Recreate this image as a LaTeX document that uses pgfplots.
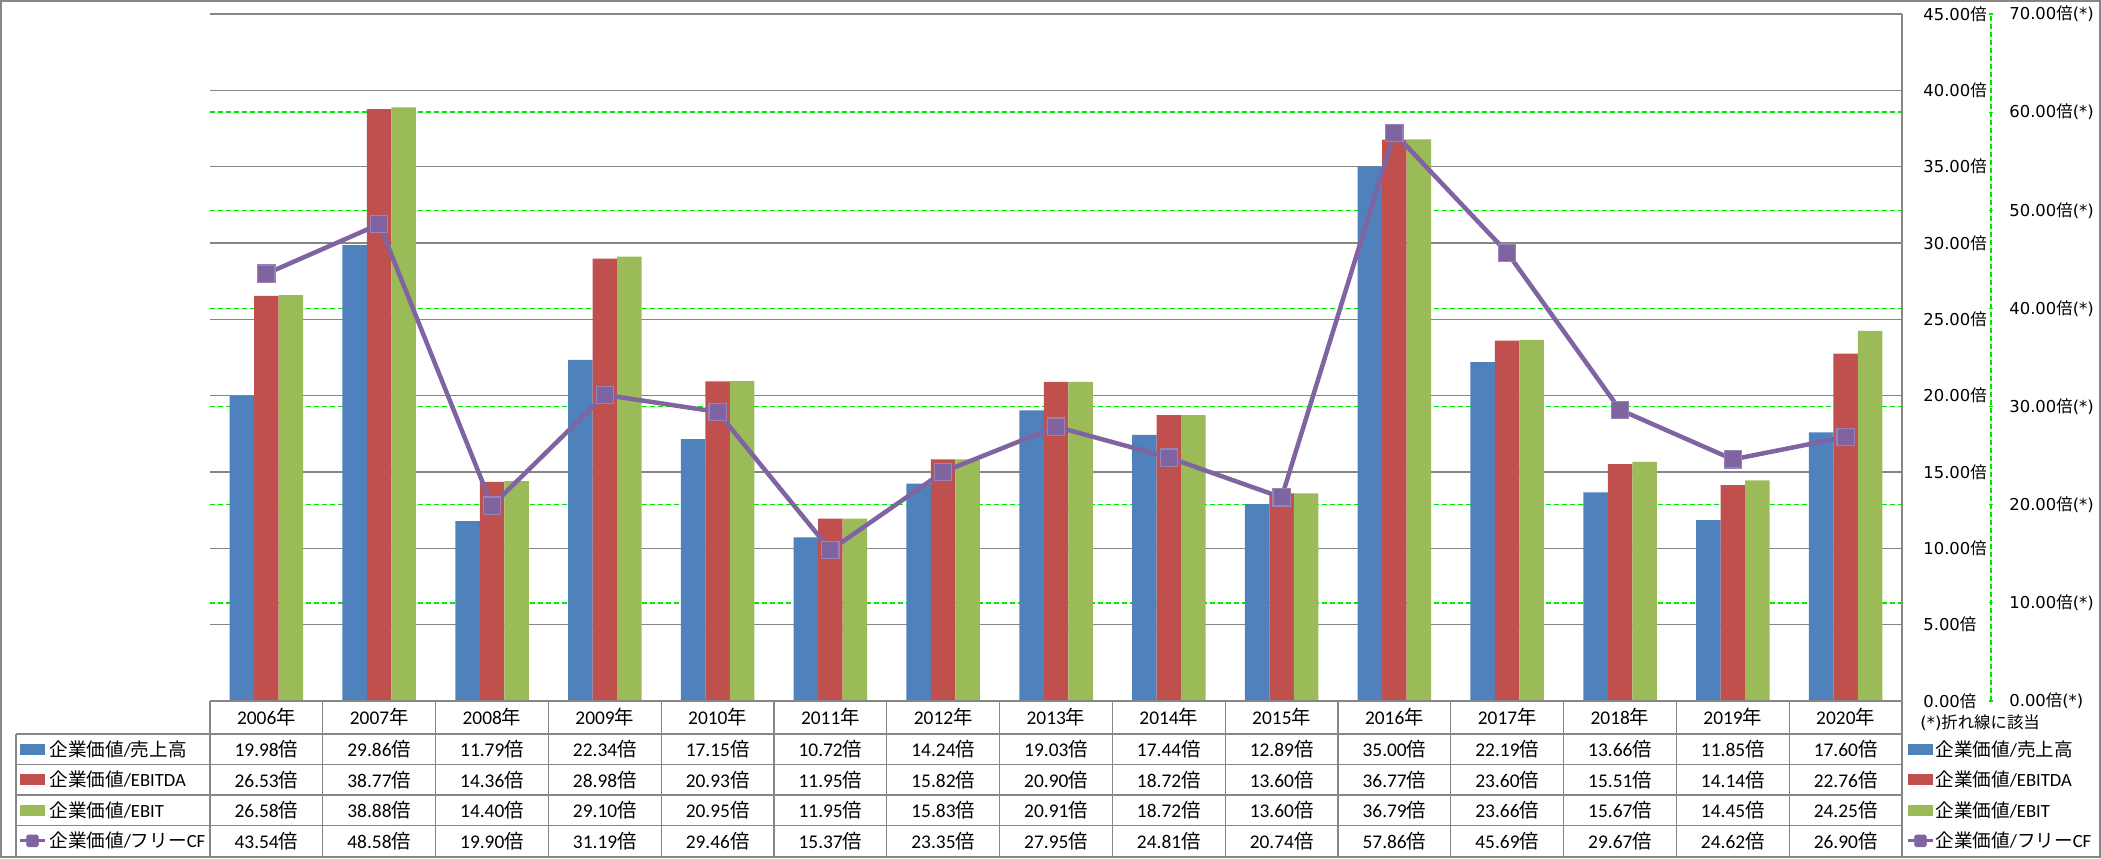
\documentclass[border=0pt]{standalone}
\usepackage{fontspec}
\setmainfont{Carlito}
\newfontfamily\jpf{Noto Sans CJK JP}
\newfontfamily\djv{DejaVu Sans}
\usepackage{pgfplots}
\pgfplotsset{compat=1.18}
\definecolor{cBlue}{HTML}{4F81BD}
\definecolor{cRed}{HTML}{C0504D}
\definecolor{cGreen}{HTML}{9BBB59}
\definecolor{cPurple}{HTML}{8064A2}
\definecolor{cGrid}{HTML}{868686}
\definecolor{cDash}{HTML}{00E600}
\newcommand{\bai}{{\jpf 倍}}
\newcommand{\tl}[1]{{\djv #1}\bai}
\newcommand{\tls}[1]{{\djv #1}\bai{\djv (*)}}
\newcommand{\tbl}{\fontsize{9.7}{11}\selectfont}
\newcommand{\lgd}{\fontsize{9.3}{11}\selectfont}
\begin{document}
\begin{tikzpicture}
\useasboundingbox (0,0) rectangle (1050.5pt,429pt);
\begin{axis}[
  at={(105pt,78.5pt)}, anchor=south west,
  width=846pt, height=343.5pt, scale only axis,
  xmin=-0.5, xmax=14.5, ymin=0, ymax=45,
  axis line style={draw=none},
  xtick=\empty,
  ytick={0,5,...,45},
  ymajorgrids,
  major grid style={cGrid, line width=0.7pt},
  ytick style={draw=none},
  yticklabel pos=right,
  yticklabels={\tl{0.00},\tl{5.00},\tl{10.00},\tl{15.00},\tl{20.00},\tl{25.00},\tl{30.00},\tl{35.00},\tl{40.00},\tl{45.00}},
  yticklabel style={anchor=west, inner sep=0pt, xshift=10.5pt, font=\fontsize{8.2}{9.6}\selectfont},
  extra y ticks={6.428571,12.857143,19.285714,25.714286,32.142857,38.571429},
  extra y tick labels={},
  extra y tick style={grid=major, major grid style={cDash, line width=0.75pt, dash pattern=on 2.5pt off 1.5pt}},
  ybar=0pt, bar width=12.25pt,
]
\addplot[fill=cBlue, draw=none] coordinates {(0,19.98) (1,29.86) (2,11.79) (3,22.34) (4,17.15) (5,10.72) (6,14.24) (7,19.03) (8,17.44) (9,12.89) (10,35.00) (11,22.19) (12,13.66) (13,11.85) (14,17.60)};
\addplot[fill=cRed, draw=none] coordinates {(0,26.53) (1,38.77) (2,14.36) (3,28.98) (4,20.93) (5,11.95) (6,15.82) (7,20.90) (8,18.72) (9,13.60) (10,36.77) (11,23.60) (12,15.51) (13,14.14) (14,22.76)};
\addplot[fill=cGreen, draw=none] coordinates {(0,26.58) (1,38.88) (2,14.40) (3,29.10) (4,20.95) (5,11.95) (6,15.83) (7,20.91) (8,18.72) (9,13.60) (10,36.79) (11,23.66) (12,15.67) (13,14.45) (14,24.25)};
\end{axis}
\begin{axis}[
  at={(105pt,78.5pt)}, anchor=south west,
  width=846pt, height=343.5pt, scale only axis,
  xmin=-0.5, xmax=14.5, ymin=0, ymax=70,
  axis line style={draw=none},
  xtick=\empty,
  ytick={0,10,...,70},
  ytick style={draw=none},
  yticklabel pos=right,
  yticklabels={\tls{0.00},\tls{10.00},\tls{20.00},\tls{30.00},\tls{40.00},\tls{50.00},\tls{60.00},\tls{70.00}},
  yticklabel style={anchor=west, inner sep=0pt, xshift=53.5pt, font=\fontsize{8.2}{9.6}\selectfont},
]
\addplot[cPurple, line width=2.25pt, mark=square*, mark size=4.3pt, mark options={fill=cPurple, draw=cPurple!80!white, line width=0.6pt, rounded corners=1pt}] coordinates {(0,43.54) (1,48.58) (2,19.90) (3,31.19) (4,29.46) (5,15.37) (6,23.35) (7,27.95) (8,24.81) (9,20.74) (10,57.86) (11,45.69) (12,29.67) (13,24.62) (14,26.90)};
\end{axis}
\begin{scope}[x=1pt,y=1pt]
% outer frame
\draw[cGrid, line width=0.75pt] (0.4,0.4) rectangle (1050.1,428.6);
% plot right border
\draw[cGrid, line width=0.6pt] (951,0.4) -- (951,422);
% secondary axis line
\draw[cDash, line width=0.6pt, dash pattern=on 2.5pt off 1.5pt] (995.5,78.5) -- (995.5,422);
\foreach \k in {0,...,7} \draw[cDash, line width=0.6pt] (994.3,{78.5+49.0714*\k}) -- (996.7,{78.5+49.0714*\k});
\node[anchor=west, inner sep=0pt, font=\fontsize{8.2}{9.6}\selectfont] at (960,67.5) {{\djv (*)}{\jpf 折れ線に該当}};
% table lines
\draw[cGrid, line width=0.6pt] (105,78.5) -- (951,78.5);
\foreach \yy in {62,46.75,31.5,16.25} \draw[cGrid, line width=0.6pt] (8,\yy) -- (951,\yy);
\draw[cGrid, line width=0.6pt] (8,0.4) -- (8,62);
\foreach \k in {0,...,14} \draw[cGrid, line width=0.6pt] ({105+56.4*\k},0.4) -- ({105+56.4*\k},78.5);
% header
\foreach \yr [count=\i from 0] in {2006,2007,2008,2009,2010,2011,2012,2013,2014,2015,2016,2017,2018,2019,2020}
  \node[font=\tbl, inner sep=0pt] at ({105+56.4*(\i+0.5)},70.25) {\yr{\jpf 年}};
% rows
\foreach \v [count=\i from 0] in {19.98,29.86,11.79,22.34,17.15,10.72,14.24,19.03,17.44,12.89,35.00,22.19,13.66,11.85,17.60}
  \node[font=\tbl, inner sep=0pt] at ({105+56.4*(\i+0.5)},54.4) {\v\bai};
\foreach \v [count=\i from 0] in {26.53,38.77,14.36,28.98,20.93,11.95,15.82,20.90,18.72,13.60,36.77,23.60,15.51,14.14,22.76}
  \node[font=\tbl, inner sep=0pt] at ({105+56.4*(\i+0.5)},39.1) {\v\bai};
\foreach \v [count=\i from 0] in {26.58,38.88,14.40,29.10,20.95,11.95,15.83,20.91,18.72,13.60,36.79,23.66,15.67,14.45,24.25}
  \node[font=\tbl, inner sep=0pt] at ({105+56.4*(\i+0.5)},23.9) {\v\bai};
\foreach \v [count=\i from 0] in {43.54,48.58,19.90,31.19,29.46,15.37,23.35,27.95,24.81,20.74,57.86,45.69,29.67,24.62,26.90}
  \node[font=\tbl, inner sep=0pt] at ({105+56.4*(\i+0.5)},8.6) {\v\bai};
% legend (left and right)
\foreach \xa/\xt in {10/24.5, 954/967.5} {
  \fill[cBlue] (\xa,51.65) rectangle ({\xa+12.5},57.15);
  \fill[cRed] (\xa,36.35) rectangle ({\xa+12.5},41.85);
  \fill[cGreen] (\xa,21.15) rectangle ({\xa+12.5},26.65);
  \draw[cPurple, line width=1.6pt] (\xa,8.6) -- ({\xa+12.5},8.6);
  \filldraw[cPurple, rounded corners=0.8pt] ({\xa+6.25-2.9},5.7) rectangle ({\xa+6.25+2.9},11.5);
  \node[anchor=west, inner sep=0pt, font=\lgd] at (\xt,54.4) {{\jpf 企業価値}/{\jpf 売上高}};
  \node[anchor=west, inner sep=0pt, font=\lgd] at (\xt,39.1) {{\jpf 企業価値}/EBITDA};
  \node[anchor=west, inner sep=0pt, font=\lgd] at (\xt,23.9) {{\jpf 企業価値}/EBIT};
  \node[anchor=west, inner sep=0pt, font=\lgd] at (\xt,8.6) {{\jpf 企業価値}/{\jpf フリー}CF};
}
\end{scope}
\end{tikzpicture}
\end{document}
